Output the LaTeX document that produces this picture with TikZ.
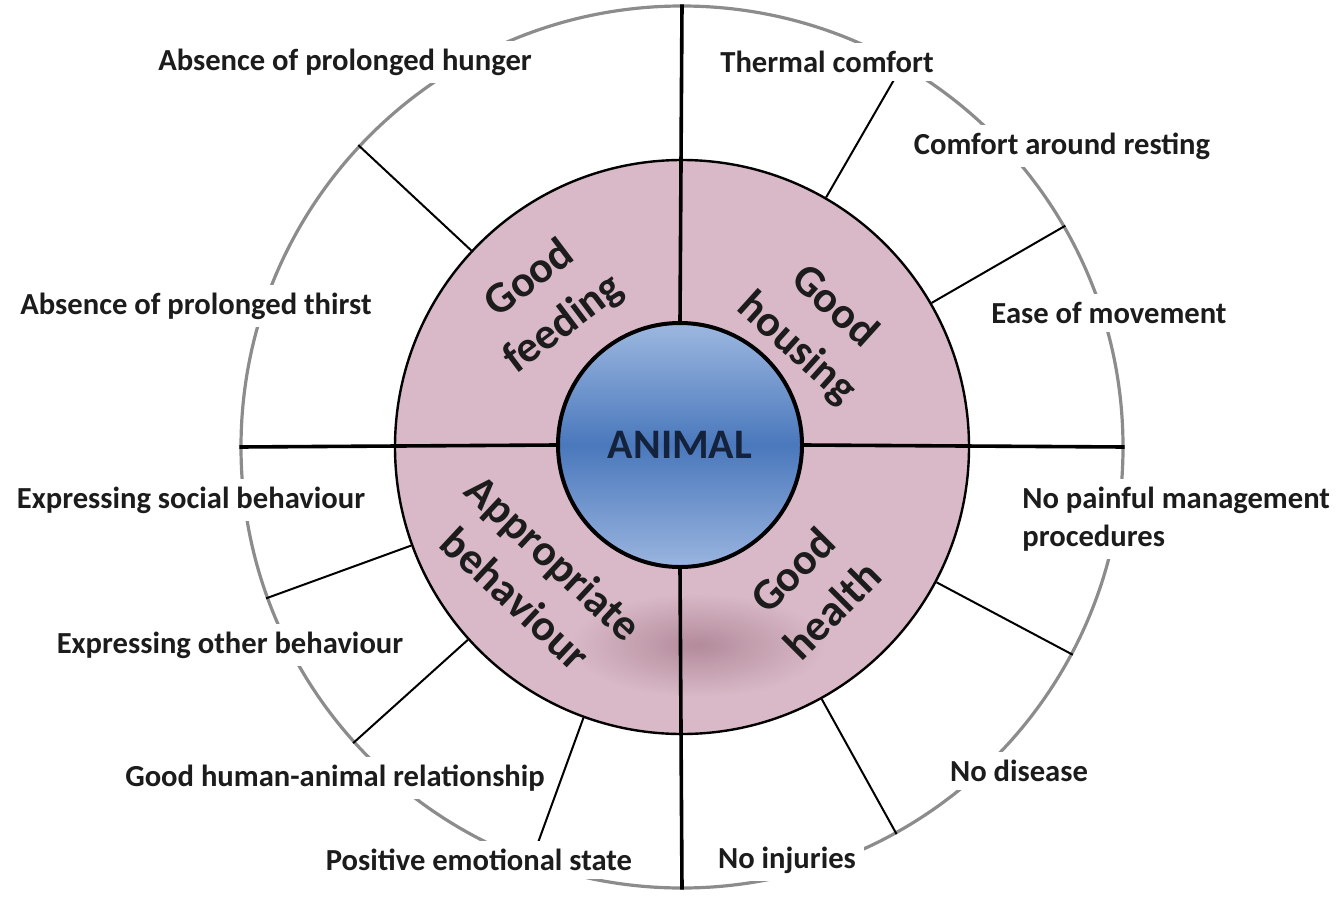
\documentclass[tikz,border=0pt]{standalone}
\usepackage{fontspec}
\setmainfont{Carlito}
\usepackage{tikz}
\definecolor{ringpink}{HTML}{D9B9C7}
\definecolor{shadowpink}{HTML}{B38B9B}
\definecolor{rimgray}{HTML}{8C8C8C}
\definecolor{bluetop}{HTML}{9DB8E0}
\definecolor{bluemid}{HTML}{4A78BC}
\definecolor{bluebot}{HTML}{9AB5DF}
\definecolor{navy}{HTML}{14223C}
\definecolor{ink}{HTML}{1C1C1C}

\begin{document}
\begin{tikzpicture}[x=0.5pt, y=-0.5pt,
      rimcircle/.style={circle, draw=rimgray, line width=1.6pt, minimum size=441pt, inner sep=0pt},
      ringcircle/.style={circle, draw=black, line width=1.2pt, fill=ringpink, minimum size=287pt, inner sep=0pt},
      coredisc/.style={circle, draw=black, line width=2pt, top color=bluetop, bottom color=bluebot, middle color=bluemid,
        minimum size=122pt, inner sep=0pt, font=\fontsize{21}{25}\selectfont\bfseries, text=navy},
      axisline/.style={line width=1.8pt, black},
      tickline/.style={line width=1pt, black},
      sector/.style={font=\fontsize{22}{28}\selectfont\bfseries, text=ink, align=center},
      item/.style={font=\fontsize{15.3}{19}\selectfont\bfseries, text=ink, fill=white, inner sep=4pt}]

      \useasboundingbox (0,0) rectangle (1342,899);

      % --- Rings ---
      \node[rimcircle] (rim) at (682,447) {};
      \node[ringcircle] (ring) at (682,447) {};
      \shade[inner color=shadowpink, outer color=ringpink] (698,645) ellipse [x radius=64pt, y radius=26pt];
      \node[coredisc] (animal) at (680,445) {\raisebox{-2pt}{ANIMAL}};

      % --- Quadrant axes ---
      \foreach \side in {north,east,south,west}
        \draw[axisline] (rim.\side) -- (animal.\side);

      % --- Criterion separators ---
      \foreach \ang in {137,60,30,-28,-61,-110,-138,-160}
        \draw[tickline] (ring.\ang) -- (rim.\ang);

      % --- Principles ---
      \node[sector, rotate=37] (feeding) at (547,302) {Good\\feeding};
      \node[sector, rotate=-42] (housing) at (815,328) {Good\\housing};
      \node[sector, rotate=-43] (behaviour) at (535,578) {Appropriate\\behaviour};
      \node[sector, rotate=45] (health) at (812,590) {Good\\health};

      % --- Criteria ---
      \node[item] (hunger) at (345,62) {Absence of prolonged hunger};
      \node[item] (thirst) at (196,306) {Absence of prolonged thirst};
      \node[item] (thermal) at (827,62) {Thermal comfort};
      \node[item] (resting) at (1062,146) {Comfort around resting};
      \node[item] (movement) at (1109,313) {Ease of movement};
      \node[item, align=left, anchor=west] (painful) at (1014,519) {No painful management\\procedures};
      \node[item] (disease) at (1019,771) {No disease};
      \node[item] (injuries) at (787,860) {No injuries};
      \node[item] (emotional) at (479,860) {Positive emotional state};
      \node[item] (human) at (335,778) {Good human-animal relationship};
      \node[item] (other) at (230,645) {Expressing other behaviour};
      \node[item] (social) at (191,500) {Expressing social behaviour};

    \end{tikzpicture}
\end{document}
